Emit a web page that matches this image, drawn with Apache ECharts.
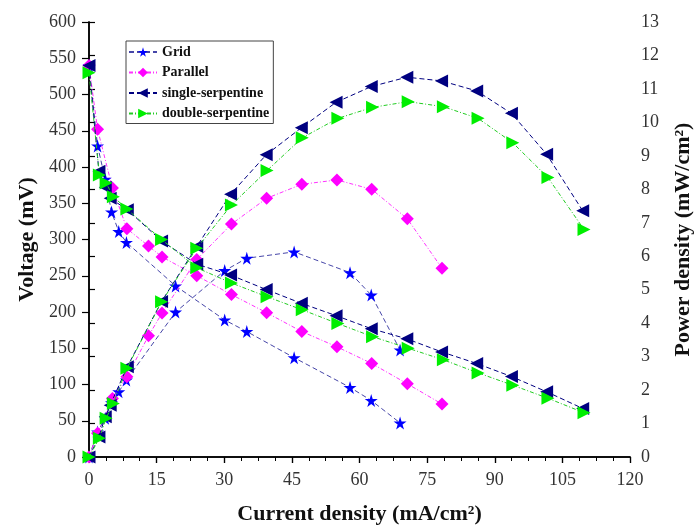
<!DOCTYPE html>
<html>
<head>
<meta charset="utf-8">
<script src="https://cdn.jsdelivr.net/npm/echarts@6/dist/echarts.min.js"></script>
<style>html,body{margin:0;padding:0;background:#fff}#c{width:695px;height:527px}</style>
</head>
<body>
<div id="c"></div>
<script>
// ---- data ----
const seriesNames = ['Grid', 'Parallel', 'single-serpentine', 'double-serpentine'];

const gridI = [0, 1.9, 3.6, 5.0, 6.6, 8.3, 19.2, 30.1, 35.0, 45.5, 57.9, 62.6, 69.0];
const gridV = [540, 429, 383, 338, 311, 296, 236, 189, 173, 137, 96, 78, 47];
const gridP = [0, 0.75, 1.16, 1.62, 1.95, 2.3, 4.33, 5.57, 5.94, 6.13, 5.51, 4.84, 3.2];

const parallelI = [0, 1.9, 5.2, 8.4, 13.2, 16.2, 23.9, 31.6, 39.4, 47.2, 55.0, 62.7, 70.6, 78.3];
const parallelV = [540, 452, 371, 315, 291, 276, 250, 224, 199, 173, 152, 129, 101, 73];
const parallelP = [0, 0.71, 1.75, 2.4, 3.62, 4.3, 5.9, 6.96, 7.73, 8.15, 8.28, 8.0, 7.12, 5.64];

const singleI = [0, 2.2, 3.6, 4.7, 8.5, 16.1, 23.9, 31.4, 39.3, 47.1, 54.8, 62.6, 70.5, 78.2, 86.0, 93.7, 101.5, 109.5];
const singleV = [540, 394, 372, 357, 341, 298, 266, 251, 231, 212, 195, 177, 163, 145, 129, 111, 90, 67];
const singleP = [0, 0.6, 1.2, 1.55, 2.7, 4.65, 6.29, 7.85, 9.03, 9.84, 10.6, 11.07, 11.35, 11.24, 10.94, 10.27, 9.05, 7.36];

const doubleI = [0, 2.3, 3.8, 5.4, 8.4, 16.1, 23.9, 31.6, 39.5, 47.3, 55.2, 62.9, 70.8, 78.6, 86.3, 94.0, 101.8, 109.8];
const doubleV = [530, 389, 378, 359, 342, 300, 261, 240, 221, 203, 184, 166, 150, 134, 116, 99, 81, 61];
const doubleP = [0, 0.56, 1.16, 1.6, 2.65, 4.64, 6.24, 7.53, 8.56, 9.54, 10.12, 10.45, 10.62, 10.47, 10.12, 9.39, 8.35, 6.8];

const xTicks = {min: 0, max: 120, interval: 15};
const vTicks = {min: 0, max: 600, interval: 50};
const pTicks = {min: 0, max: 13, interval: 1};

// ---- styles ----
const starPath = 'path://M50,0 L61,35 L98,35 L68,57 L79,91 L50,70 L21,91 L32,57 L2,35 L39,35 Z';
const styles = [
  {symbol: starPath, rot: 0, size: 13, color: '#0000ff', line: '#4646a8', dash: [5, 3]},
  {symbol: 'diamond', rot: 0, size: 13, color: '#ff00ff', line: '#ff33ff', dash: [4, 2, 1, 2]},
  {symbol: 'triangle', rot: 90, size: 13, color: '#000080', line: '#000080', dash: [5, 3]},
  {symbol: 'triangle', rot: -90, size: 13, color: '#00ee00', line: '#22cc22', dash: [4, 2, 1, 2]}
];
const sets = [
  [gridI, gridV, gridP],
  [parallelI, parallelV, parallelP],
  [singleI, singleV, singleP],
  [doubleI, doubleV, doubleP]
];

const FONT = '"Liberation Serif", "Times New Roman", serif';
const series = [];
sets.forEach((s, k) => {
  const st = styles[k];
  const base = {
    name: seriesNames[k], type: 'line', xAxisIndex: 0,
    symbol: st.symbol, symbolRotate: st.rot, symbolSize: st.size,
    itemStyle: {color: st.color},
    lineStyle: {color: st.line, width: 1, type: st.dash},
    animation: false, z: 2 + k
  };
  series.push(Object.assign({}, base, {yAxisIndex: 0, data: s[0].map((x, i) => [x, s[1][i]])}));
  series.push(Object.assign({}, base, {yAxisIndex: 1, data: s[0].map((x, i) => [x, s[2][i]])}));
});

const chart = echarts.init(document.getElementById('c'), null, {renderer: 'canvas'});
chart.setOption({
  backgroundColor: '#fff',
  animation: false,
  grid: {left: 89, right: 65, top: 22, bottom: 70, containLabel: false, outerBoundsMode: 'none'},
  legend: {
    data: seriesNames, orient: 'vertical', left: 126, top: 41,
    itemWidth: 28, itemHeight: 12, itemGap: 6.5,
    padding: [4, 4, 3, 2], borderColor: '#444', borderWidth: 1,
    textStyle: {fontFamily: FONT, fontWeight: 'bold', fontSize: 14, color: '#111'}
  },
  xAxis: [
    {type: 'value', position: 'bottom', min: xTicks.min, max: xTicks.max, interval: xTicks.interval,
     name: 'Current density (mA/cm²)', nameLocation: 'middle', nameGap: 46,
     nameTextStyle: {fontFamily: FONT, fontWeight: 'bold', fontSize: 22, color: '#111'},
     axisLine: {lineStyle: {color: '#000', width: 1.5}},
     axisTick: {length: 6, lineStyle: {color: '#000', width: 1.2}},
     minorTick: {show: true, splitNumber: 4, length: 4, lineStyle: {color: '#000', width: 1}},
     axisLabel: {fontFamily: FONT, fontSize: 18, color: '#333', margin: 14},
     splitLine: {show: false}},
    {type: 'value', position: 'top', min: xTicks.min, max: xTicks.max, interval: xTicks.interval,
     axisLine: {lineStyle: {color: '#000', width: 1.5}},
     axisTick: {inside: true, length: 6, lineStyle: {color: '#000', width: 1.2}},
     minorTick: {show: true, splitNumber: 4, length: 4, lineStyle: {color: '#000', width: 1}},
     axisLabel: {show: false}, splitLine: {show: false}}
  ],
  yAxis: [
    {type: 'value', position: 'left', min: vTicks.min, max: vTicks.max, interval: vTicks.interval,
     name: 'Voltage (mV)', nameLocation: 'middle', nameGap: 48,
     nameTextStyle: {fontFamily: FONT, fontWeight: 'bold', fontSize: 22, color: '#111'},
     axisLine: {show: true, lineStyle: {color: '#000', width: 1.5}},
     axisTick: {show: true, length: 7, lineStyle: {color: '#000', width: 1.2}},
     axisLabel: {fontFamily: FONT, fontSize: 18, color: '#333', margin: 13},
     splitLine: {show: false}},
    {type: 'value', position: 'right', min: pTicks.min, max: pTicks.max, interval: pTicks.interval,
     name: 'Power density (mW/cm²)', nameLocation: 'middle', nameGap: 42,
     nameTextStyle: {fontFamily: FONT, fontWeight: 'bold', fontSize: 22, color: '#111'},
     axisLine: {show: true, lineStyle: {color: '#000', width: 1.5}},
     axisTick: {show: true, length: 6, lineStyle: {color: '#000', width: 1.2}},
     axisLabel: {fontFamily: FONT, fontSize: 18, color: '#333', margin: 11},
     splitLine: {show: false}}
  ],
  series: series
});
</script>
</body>
</html>
